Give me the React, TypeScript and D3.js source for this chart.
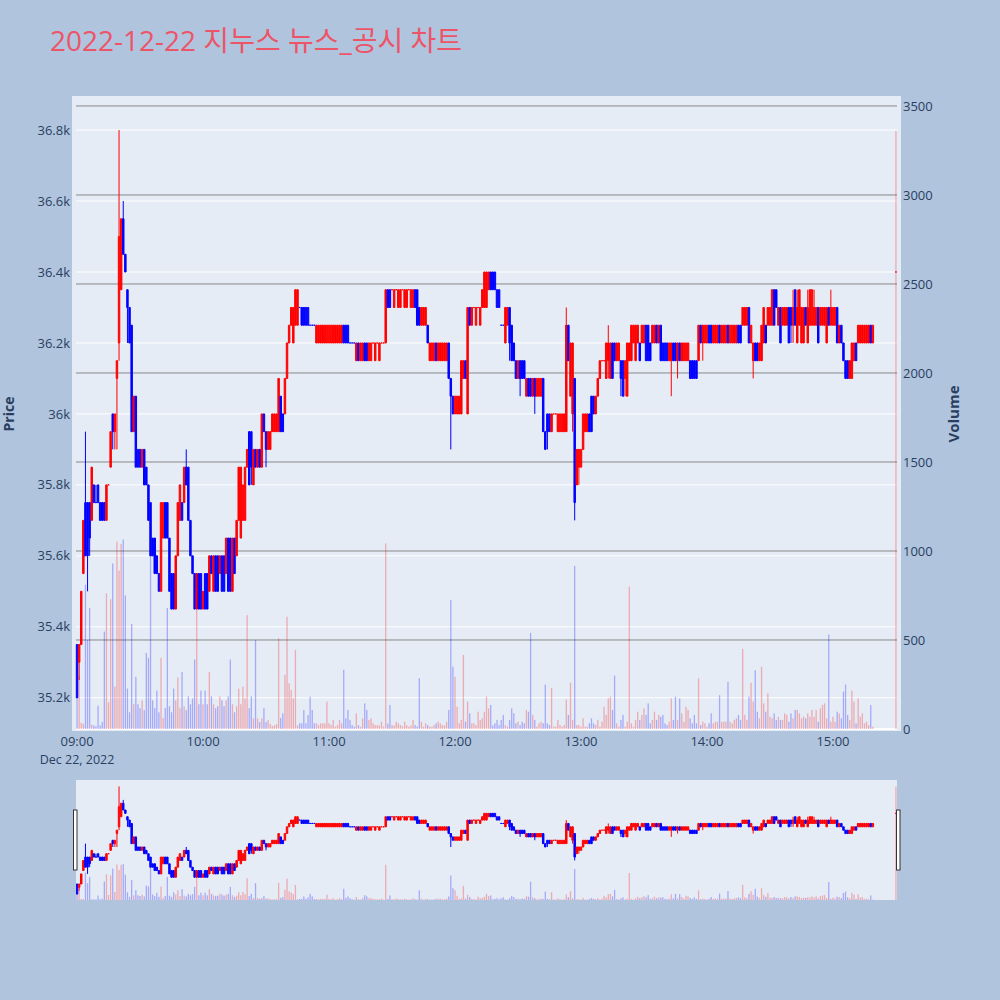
import React from "react";
import * as d3 from "d3";

const titleText = "2022-12-22 지누스 뉴스_공시 차트";
const sessionStart = new Date(2022, 11, 22, 9, 0);

// minute offsets from 09:00 (continuous session 09:00-15:19, closing auction 15:30)
const minuteOffsets: number[] = [...d3.range(0, 380), 390];

const opens = [
  35350,35300,35350,35550,35750,35750,35750,35700,35800,35750,
  35800,35750,35750,35750,35700,35800,35850,36000,35950,36100,
  36200,36350,36550,36450,36350,36300,36250,35950,36050,35900,
  35900,35850,35900,35850,35800,35750,35650,35650,35600,35550,
  35500,35650,35750,35750,35650,35550,35550,35450,35600,35700,
  35750,35750,35850,35850,35700,35600,35550,35450,35550,35550,
  35450,35550,35550,35500,35600,35500,35600,35600,35550,35600,
  35600,35550,35650,35650,35500,35650,35600,35700,35650,35700,
  35700,35850,35950,35950,35800,35900,35850,35900,35850,36000,
  35950,35900,35900,35950,35950,35950,35950,36050,36000,36000,
  36100,36200,36250,36200,36250,36250,36300,36300,36300,36300,
  36300,36250,36250,36250,36200,36200,36200,36200,36200,36200,
  36200,36200,36200,36200,36200,36200,36200,36250,36250,36250,
  36200,36200,36200,36150,36200,36150,36150,36200,36200,36150,
  36150,36200,36150,36200,36150,36200,36200,36200,36350,36350,
  36350,36300,36350,36300,36300,36350,36300,36300,36350,36300,
  36300,36350,36350,36300,36250,36250,36250,36250,36150,36150,
  36150,36200,36150,36150,36150,36150,36150,36200,36100,36050,
  36000,36000,36000,36000,36100,36150,36000,36300,36250,36300,
  36250,36300,36250,36300,36300,36300,36350,36400,36400,36400,
  36350,36350,36250,36250,36200,36250,36300,36250,36200,36150,
  36100,36150,36150,36150,36050,36100,36100,36050,36100,36050,
  36050,36050,36100,35950,36000,36000,35950,36000,36000,35950,
  35950,35950,35950,35950,36250,36050,36000,36100,35800,35850,
  35850,35900,35950,35950,36000,36050,36050,36000,36050,36100,
  36150,36150,36100,36150,36100,36200,36200,36150,36150,36150,
  36150,36100,36050,36150,36150,36200,36150,36200,36200,36200,
  36200,36250,36250,36200,36200,36200,36250,36200,36250,36200,
  36200,36200,36150,36150,36200,36200,36150,36200,36150,36150,
  36150,36150,36150,36150,36150,36150,36150,36250,36200,36200,
  36200,36250,36250,36200,36200,36200,36250,36200,36200,36200,
  36250,36200,36200,36200,36200,36250,36250,36250,36250,36250,
  36300,36200,36150,36200,36200,36150,36150,36200,36250,36250,
  36250,36250,36350,36350,36250,36300,36250,36250,36250,36300,
  36300,36250,36350,36200,36250,36200,36200,36300,36200,36250,
  36250,36250,36250,36300,36250,36250,36250,36200,36300,36250,
  36250,36250,36300,36200,36250,36200,36150,36150,36100,36100,
  36150,36200,36200,36200,36200,36200,36200,36200,36250,36200,
  36400,
];

const highs = [
  35350,35350,35500,35700,35950,35750,35750,35850,35800,35800,
  35800,35750,35750,35750,35800,35800,35950,36000,36000,36150,
  36800,36550,36600,36450,36350,36300,36250,36050,36050,35900,
  35900,35900,35900,35850,35800,35750,35650,35650,35600,35550,
  35750,35750,35750,35750,35650,35550,35550,35600,35750,35800,
  35750,35850,35900,35850,35700,35600,35550,35550,35550,35550,
  35500,35550,35550,35600,35600,35600,35600,35600,35600,35600,
  35600,35650,35650,35650,35650,35650,35700,35850,35850,35800,
  35850,35900,35950,35950,35900,35900,35900,35900,36000,36000,
  35950,35950,35950,36000,36000,36000,36100,36050,36000,36100,
  36200,36250,36300,36300,36350,36350,36300,36300,36300,36300,
  36300,36250,36250,36250,36250,36250,36250,36250,36250,36250,
  36250,36250,36250,36250,36250,36250,36250,36250,36250,36250,
  36200,36200,36200,36200,36200,36200,36200,36200,36200,36200,
  36200,36200,36200,36200,36200,36200,36200,36350,36350,36350,
  36350,36350,36350,36350,36350,36350,36350,36350,36350,36350,
  36350,36350,36350,36300,36300,36300,36300,36250,36200,36200,
  36200,36200,36200,36200,36200,36200,36200,36200,36100,36050,
  36050,36050,36050,36150,36150,36150,36300,36300,36300,36300,
  36300,36300,36300,36350,36400,36400,36400,36400,36400,36400,
  36350,36350,36250,36250,36300,36300,36300,36250,36200,36150,
  36150,36150,36150,36150,36100,36100,36100,36100,36100,36100,
  36100,36100,36100,35950,36000,36000,36000,36000,36000,36000,
  36000,36000,36000,36300,36250,36200,36200,36100,35900,35900,
  35900,36000,36000,36000,36000,36050,36050,36050,36100,36150,
  36150,36150,36200,36250,36200,36200,36200,36200,36200,36150,
  36150,36150,36200,36200,36250,36250,36250,36250,36200,36250,
  36250,36250,36250,36200,36250,36250,36250,36250,36250,36200,
  36200,36200,36200,36200,36200,36200,36200,36200,36200,36200,
  36200,36200,36150,36150,36150,36150,36250,36250,36250,36250,
  36250,36250,36250,36250,36250,36250,36250,36250,36250,36250,
  36250,36250,36250,36250,36250,36250,36250,36300,36300,36300,
  36300,36250,36200,36200,36200,36200,36250,36300,36250,36300,
  36300,36350,36350,36350,36300,36300,36300,36300,36300,36300,
  36300,36350,36350,36350,36350,36300,36300,36300,36350,36350,
  36350,36350,36300,36300,36300,36300,36300,36300,36300,36350,
  36300,36300,36300,36250,36250,36200,36150,36150,36150,36200,
  36200,36200,36250,36250,36250,36250,36250,36250,36250,36250,
  36400,
];

const lows = [
  35200,35250,35350,35550,35600,35500,35600,35700,35750,35750,
  35750,35700,35700,35700,35700,35800,35850,35900,35900,35900,
  36150,36350,36450,36400,36200,36200,35950,35950,35850,35850,
  35850,35850,35800,35800,35700,35600,35600,35550,35550,35500,
  35500,35650,35650,35650,35500,35450,35450,35450,35600,35700,
  35700,35750,35800,35700,35600,35550,35450,35450,35450,35450,
  35450,35450,35450,35500,35550,35500,35500,35500,35550,35500,
  35500,35550,35500,35500,35500,35550,35600,35700,35650,35700,
  35700,35850,35800,35800,35800,35850,35850,35850,35850,35950,
  35850,35900,35900,35950,35950,35950,35950,35950,35950,36000,
  36100,36200,36250,36200,36250,36250,36300,36250,36250,36250,
  36250,36250,36250,36250,36200,36200,36200,36200,36200,36200,
  36200,36200,36200,36200,36200,36200,36200,36200,36200,36200,
  36200,36200,36200,36150,36150,36150,36150,36150,36150,36150,
  36150,36200,36150,36200,36150,36200,36200,36200,36300,36300,
  36350,36300,36350,36300,36300,36350,36300,36300,36350,36300,
  36300,36300,36250,36250,36250,36250,36250,36200,36150,36150,
  36150,36150,36150,36150,36150,36150,36150,36100,35900,36000,
  36000,36000,36000,36000,36100,36100,36000,36250,36250,36300,
  36250,36300,36250,36300,36300,36300,36350,36350,36350,36350,
  36300,36300,36250,36250,36200,36250,36150,36150,36150,36100,
  36100,36050,36100,36100,36050,36050,36050,36050,36000,36050,
  36050,36050,35950,35900,35900,35950,35950,36000,36000,35950,
  35950,35950,35950,35950,36150,36050,35950,35700,35800,35800,
  35850,35900,35950,35950,35950,35950,36000,36000,36050,36100,
  36150,36150,36100,36100,36100,36100,36150,36150,36150,36050,
  36050,36050,36050,36150,36150,36200,36150,36200,36150,36200,
  36200,36150,36150,36150,36200,36200,36200,36200,36150,36150,
  36150,36150,36150,36050,36150,36150,36100,36150,36150,36150,
  36150,36150,36100,36100,36100,36100,36150,36200,36150,36200,
  36200,36200,36200,36200,36200,36200,36200,36200,36200,36200,
  36200,36200,36200,36200,36200,36200,36200,36250,36250,36250,
  36200,36200,36100,36150,36150,36150,36150,36200,36200,36250,
  36250,36250,36250,36300,36250,36200,36250,36250,36250,36200,
  36200,36200,36250,36200,36250,36200,36200,36250,36200,36250,
  36250,36250,36250,36200,36250,36250,36250,36200,36250,36250,
  36250,36250,36200,36200,36200,36150,36100,36100,36100,36100,
  36150,36150,36200,36200,36200,36200,36200,36200,36200,36200,
  36400,
];

const closes = [
  35200,35350,35500,35700,35600,35600,35650,35850,35750,35750,
  35750,35700,35700,35700,35800,35800,35950,35950,36000,36150,
  36500,36550,36450,36400,36300,36200,35950,36050,35850,35850,
  35850,35900,35800,35800,35700,35600,35600,35550,35550,35500,
  35750,35750,35650,35650,35500,35450,35450,35600,35750,35800,
  35700,35850,35800,35700,35600,35550,35450,35550,35450,35450,
  35500,35450,35450,35600,35550,35600,35500,35500,35600,35500,
  35500,35650,35500,35500,35650,35550,35700,35850,35850,35800,
  35850,35900,35800,35850,35900,35850,35900,35850,36000,35950,
  35900,35950,35950,36000,36000,36000,36100,35950,35950,36100,
  36200,36250,36300,36300,36350,36350,36300,36250,36250,36250,
  36250,36250,36250,36250,36250,36250,36250,36250,36250,36250,
  36250,36250,36250,36250,36250,36250,36250,36200,36200,36200,
  36200,36200,36200,36200,36150,36200,36200,36150,36150,36200,
  36200,36200,36200,36200,36200,36200,36200,36350,36300,36300,
  36350,36350,36350,36350,36350,36350,36350,36350,36350,36350,
  36350,36300,36250,36250,36300,36300,36300,36200,36200,36200,
  36200,36150,36200,36200,36200,36200,36200,36100,36050,36000,
  36050,36050,36050,36150,36150,36100,36300,36250,36300,36300,
  36300,36300,36300,36350,36400,36400,36400,36350,36350,36350,
  36300,36300,36250,36250,36300,36300,36200,36150,36150,36100,
  36150,36100,36100,36100,36100,36050,36050,36100,36050,36100,
  36100,36100,35950,35900,35950,35950,36000,36000,36000,36000,
  36000,36000,36000,36250,36150,36200,36200,35750,35900,35900,
  35900,36000,36000,36000,35950,35950,36000,36050,36100,36150,
  36150,36150,36200,36200,36200,36100,36150,36200,36200,36100,
  36050,36150,36200,36200,36250,36250,36250,36250,36150,36250,
  36250,36150,36150,36150,36250,36250,36200,36250,36150,36150,
  36150,36150,36200,36200,36150,36150,36200,36150,36200,36200,
  36200,36200,36100,36100,36100,36100,36250,36200,36250,36250,
  36250,36200,36200,36250,36250,36250,36200,36250,36250,36250,
  36200,36250,36250,36250,36250,36200,36200,36300,36300,36300,
  36200,36250,36200,36150,36150,36200,36250,36300,36200,36300,
  36300,36350,36250,36300,36300,36200,36300,36300,36300,36200,
  36250,36300,36250,36300,36350,36300,36300,36250,36300,36350,
  36350,36300,36300,36200,36300,36300,36300,36300,36250,36300,
  36300,36300,36200,36250,36200,36150,36100,36100,36150,36200,
  36200,36150,36250,36250,36250,36250,36250,36250,36200,36250,
  36400,
];

const volumes = [
  180,300,35,30,810,500,680,25,20,15,
  130,20,40,547,762,150,729,930,238,1053,
  890,1040,1065,750,227,94,590,139,293,139,
  117,161,106,427,400,985,161,117,216,94,
  400,62,117,680,128,94,227,161,290,117,
  320,128,106,183,139,172,390,670,139,216,
  139,216,139,320,183,139,117,128,183,161,
  128,161,183,390,139,94,128,227,139,238,
  172,640,117,183,60,500,60,39,60,117,
  39,50,30,17,20,28,510,62,88,304,
  631,257,219,172,444,20,32,32,107,32,
  79,182,107,32,32,22,32,32,32,154,
  32,22,51,13,22,51,32,332,60,107,
  51,22,13,88,22,13,60,144,107,51,
  60,32,22,22,20,41,13,1043,30,135,
  22,20,41,32,22,15,41,22,13,20,
  51,22,13,285,41,13,32,22,13,13,
  22,32,41,32,22,20,41,107,725,350,
  294,125,32,51,416,41,154,88,32,32,
  20,97,51,60,97,182,116,135,20,32,
  51,22,51,79,22,13,51,116,88,32,
  41,22,41,32,107,97,540,79,51,13,
  32,41,32,250,32,22,230,13,13,51,
  22,13,22,165,79,260,51,916,22,22,
  13,60,13,13,32,60,32,22,51,13,
  41,125,79,172,182,107,300,32,13,51,
  79,13,41,800,32,13,51,97,51,79,
  116,79,144,32,51,97,51,79,69,79,
  32,22,41,172,51,182,51,172,88,41,
  125,107,60,32,79,32,285,22,41,32,
  13,32,88,32,41,41,190,41,41,41,
  265,41,32,51,60,79,51,450,79,51,
  182,260,154,330,97,60,350,144,97,200,
  69,60,88,51,69,51,51,88,79,41,
  88,60,107,107,88,60,69,60,88,69,
  107,69,107,41,116,135,144,60,530,41,
  69,41,97,88,60,210,250,79,51,215,
  154,32,172,69,88,32,41,22,135,13,
  3360,
];

const priceTicks = [35200, 35400, 35600, 35800, 36000, 36200, 36400, 36600, 36800];
const volumeTicks = [0, 500, 1000, 1500, 2000, 2500, 3000, 3500];
const priceDomain = [35112, 36896];
const volumeDomain = [0, 3556];

const UP = "#ff0000";
const DOWN = "#0000ff";
const FONT = "'Open Sans', 'Noto Sans CJK KR', sans-serif";
const TEXT = "#2a3f5f";

export default function App() {
  const bg = { left: 72, right: 901, top: 96, bottom: 731 };
  const plot = { left: 76, right: 897, top: 96, bottom: 729 };
  const slider = { left: 76, right: 897, top: 780, bottom: 900 };

  const toDate = (m: number) => new Date(sessionStart.getTime() + m * 60000);
  const x = d3.scaleTime().domain([toDate(-0.5), toDate(390.5)]).range([plot.left, plot.right]);
  const yP = d3.scaleLinear().domain(priceDomain).range([plot.bottom, plot.top]);
  const yV = d3.scaleLinear().domain(volumeDomain).range([plot.bottom, plot.top]);
  const yPs = yP.copy().range([slider.bottom, slider.top]);
  const yVs = yV.copy().range([slider.bottom, slider.top]);

  const step = x(toDate(1)) - x(toDate(0));
  const boxW = step * 0.7;
  const volW = 1.3;

  // candle direction (plotly rule: equal open/close compares to previous close)
  const ups: boolean[] = [];
  let prevUp = false;
  opens.forEach((o, i) => {
    const c = closes[i];
    const pc = i > 0 ? closes[i - 1] : c;
    const up = c > o ? true : c < o ? false : c > pc ? true : c < pc ? false : prevUp;
    ups.push(up);
    prevUp = up;
  });

  const candlePath = (i: number, ys: d3.ScaleLinear<number, number>) => {
    const cx = x(toDate(minuteOffsets[i]));
    const x0 = cx - boxW / 2, x1 = cx + boxW / 2;
    const yo = ys(opens[i]), yc = ys(closes[i]);
    const yh = ys(highs[i]), yl = ys(lows[i]);
    return `M${x0},${yo}H${x1}V${yc}H${x0}Z M${cx},${yh}V${Math.min(yo, yc)} M${cx},${yl}V${Math.max(yo, yc)}`;
  };

  const fmtPrice = d3.format("~s");
  const xTicks = x.ticks(d3.timeHour.every(1)!).filter((d) => d >= toDate(0) && d <= toDate(390));
  const fmtTime = d3.timeFormat("%H:%M");

  const renderVolumes = (ys: d3.ScaleLinear<number, number>, key: string) =>
    volumes.map((v, i) => {
      const cx = x(toDate(minuteOffsets[i]));
      return (
        <rect
          key={key + i}
          x={cx - volW / 2}
          y={ys(v)}
          width={volW}
          height={Math.max(0, ys(0) - ys(v))}
          fill={ups[i] ? UP : DOWN}
          fillOpacity={0.28}
        />
      );
    });

  const renderCandles = (ys: d3.ScaleLinear<number, number>, key: string) =>
    opens.map((_, i) => (
      <path
        key={key + i}
        d={candlePath(i, ys)}
        fill={ups[i] ? UP : DOWN}
        stroke={ups[i] ? UP : DOWN}
        strokeWidth={1}
      />
    ));

  return (
    <svg width={1000} height={1000} style={{ position: "absolute", left: 0, top: 0, display: "block" }} fontFamily={FONT}>
      <defs>
        <clipPath id="mainClip">
          <rect x={bg.left} y={bg.top} width={bg.right - bg.left} height={bg.bottom - bg.top} />
        </clipPath>
        <clipPath id="sliderClip">
          <rect x={slider.left} y={slider.top} width={slider.right - slider.left} height={slider.bottom - slider.top} />
        </clipPath>
      </defs>
      <rect x={0} y={0} width={1000} height={1000} fill="#b0c4de" />
      <text x={50} y={50.5} fontSize={28} fill="#ec5468">{titleText}</text>

      {/* main plot */}
      <rect x={bg.left} y={bg.top} width={bg.right - bg.left} height={bg.bottom - bg.top} fill="#e5ecf6" />
      {priceTicks.map((p) => (
        <line key={"pg" + p} x1={plot.left} x2={plot.right} y1={yP(p)} y2={yP(p)} stroke="#ffffff" strokeWidth={1} />
      ))}
      {volumeTicks.filter((v) => v > 0).map((v) => (
        <line key={"vg" + v} x1={plot.left} x2={plot.right} y1={yV(v)} y2={yV(v)} stroke="#888888" strokeWidth={1} />
      ))}
      <line x1={plot.left} x2={plot.right} y1={yV(0)} y2={yV(0)} stroke="#ffffff" strokeWidth={2} />

      <g clipPath="url(#mainClip)">
        {renderVolumes(yV, "v")}
        {renderCandles(yP, "c")}
      </g>

      {/* left axis */}
      {priceTicks.map((p) => (
        <text key={"pt" + p} x={70} y={yP(p) + 4.6} fontSize={13} fill={TEXT} textAnchor="end">
          {fmtPrice(p)}
        </text>
      ))}
      {/* right axis */}
      {volumeTicks.map((v) => (
        <text key={"vt" + v} x={903} y={yV(v) + 4.6} fontSize={13} fill={TEXT} textAnchor="start">
          {v}
        </text>
      ))}
      {/* x axis */}
      {xTicks.map((d, i) => (
        <g key={"xt" + i}>
          <text x={x(d)} y={745.5} fontSize={13} fill={TEXT} textAnchor="middle">{fmtTime(d)}</text>
          {i === 0 && (
            <text x={x(d)} y={763.5} fontSize={12.5} fill={TEXT} textAnchor="middle">Dec 22, 2022</text>
          )}
        </g>
      ))}
      <text transform={`translate(14,414) rotate(-90)`} fontSize={14} fontWeight="bold" fill={TEXT} textAnchor="middle">Price</text>
      <text transform={`translate(959,414) rotate(-90)`} fontSize={15} fontWeight="bold" fill={TEXT} textAnchor="middle">Volume</text>

      {/* range slider */}
      <rect x={slider.left} y={slider.top} width={slider.right - slider.left} height={slider.bottom - slider.top} fill="#e5ecf6" />
      <g clipPath="url(#sliderClip)">
        {renderVolumes(yVs, "sv")}
        {renderCandles(yPs, "sc")}
      </g>
      <rect x={73.5} y={810} width={3.5} height={60} fill="#ffffff" stroke="#333333" strokeWidth={1} />
      <rect x={896.5} y={810} width={3.5} height={60} fill="#ffffff" stroke="#333333" strokeWidth={1} />
    </svg>
  );
}
